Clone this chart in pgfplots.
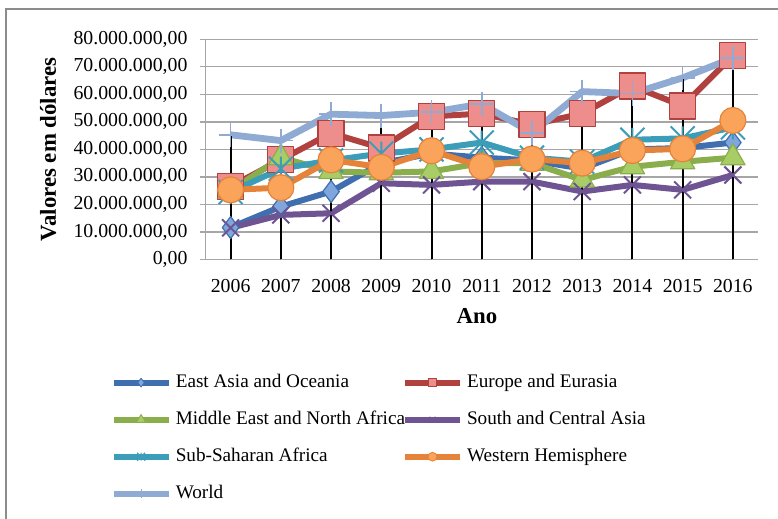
\documentclass[border=0pt]{standalone}
\usepackage{fontspec}
\setmainfont{Liberation Serif}
\usepackage{pgfplots}
\pgfplotsset{compat=1.18}
\usepackage{pgfplotstable}

\definecolor{eaLine}{HTML}{3F6FAE}
\definecolor{eaFill}{HTML}{7FA7DE}
\definecolor{euLine}{HTML}{B0413E}
\definecolor{euFill}{HTML}{EE8E8C}
\definecolor{meLine}{HTML}{8AAE4B}
\definecolor{meFill}{HTML}{A8CC66}
\definecolor{scLine}{HTML}{6E5492}
\definecolor{ssLine}{HTML}{3C9DB8}
\definecolor{whLine}{HTML}{E6833A}
\definecolor{whFill}{HTML}{F9A45A}
\definecolor{wLine}{HTML}{8FAAD3}
\definecolor{gridgray}{HTML}{A6A6A6}
\definecolor{framegray}{HTML}{8C8C8C}

\pgfdeclareplotmark{xbar}{%
  \pgfpathmoveto{\pgfqpoint{-\pgfplotmarksize}{-\pgfplotmarksize}}%
  \pgfpathlineto{\pgfqpoint{\pgfplotmarksize}{\pgfplotmarksize}}%
  \pgfpathmoveto{\pgfqpoint{-\pgfplotmarksize}{\pgfplotmarksize}}%
  \pgfpathlineto{\pgfqpoint{\pgfplotmarksize}{-\pgfplotmarksize}}%
  \pgfpathmoveto{\pgfqpoint{0pt}{-\pgfplotmarksize}}%
  \pgfpathlineto{\pgfqpoint{0pt}{\pgfplotmarksize}}%
  \pgfusepathqstroke}

\pgfplotstableread{
year ea eu me sc ss wh w
2006 11600000 26500000 25000000 11500000 24500000 25300000 45300000
2007 19200000 36200000 37000000 16200000 33000000 26100000 43200000
2008 24700000 45900000 32000000 16800000 36000000 36200000 52800000
2009 35000000 40500000 31500000 27700000 38500000 33500000 52300000
2010 38500000 52000000 32000000 27100000 40000000 39500000 53500000
2011 37000000 53000000 35000000 28300000 42500000 33700000 56500000
2012 36000000 49000000 35000000 28300000 37000000 36500000 46000000
2013 33000000 53000000 28900000 24700000 35500000 35000000 61000000
2014 40000000 63000000 33700000 27100000 43500000 39600000 60300000
2015 40500000 55800000 35500000 25300000 44000000 40200000 66000000
2016 42500000 74000000 37000000 30700000 48000000 50500000 73200000
}\data

\begin{document}
\begin{tikzpicture}
\useasboundingbox (0,0) rectangle (389pt,259.5pt);
\begin{axis}[
  at={(102.75pt,129.75pt)}, anchor=south west,
  scale only axis, width=276.25pt, height=110.1pt,
  xmin=2005.5, xmax=2016.5, ymin=0, ymax=80000000,
  axis x line*=bottom, axis y line*=left,
  axis line style={gridgray, line width=0.65pt, -},
  xtick={2006,...,2016},
  xticklabels={2006,2007,2008,2009,2010,2011,2012,2013,2014,2015,2016},
  xtick style={draw=none},
  ytick={0,10000000,20000000,30000000,40000000,50000000,60000000,70000000,80000000},
  yticklabels={{0,00},{10.000.000,00},{20.000.000,00},{30.000.000,00},{40.000.000,00},{50.000.000,00},{60.000.000,00},{70.000.000,00},{80.000.000,00}},
  scaled y ticks=false,
  ytick style={gridgray, line width=0.65pt},
  tick align=outside, major tick length=3pt,
  ymajorgrids, grid style={gridgray, line width=0.65pt},
  tick label style={font=\fontsize{9.9}{11}\selectfont},
  yticklabel style={xshift=-2.5pt},
  xticklabel style={yshift=-3.5pt},
  /pgf/number format/assume math mode=true,
  ylabel={Valores em dólares}, xlabel={Ano},
  label style={font=\fontsize{11.4}{13}\selectfont\bfseries},
  y label style={at={(axis description cs:-0.285,0.5)}, anchor=center},
  x label style={at={(axis description cs:0.4914,-0.2566)}, anchor=center},
  clip=false,
  legend columns=2,
  legend cell align=left,
  legend style={at={(axis description cs:-0.1729,-0.502)}, anchor=north west,
    draw=none, fill=none, inner sep=0pt, row sep=6.3pt,
    font=\fontsize{9.6}{11}\selectfont,
    /tikz/every even column/.append style={column sep=-3.5pt}},
  legend image code/.code={\draw[mark repeat=2, mark phase=2, #1]
     plot coordinates {(0pt,0pt) (13.75pt,0pt) (27.5pt,0pt)};},
  every axis plot/.append style={line width=3pt, line join=round},
]
\addplot[forget plot, eaLine, mark=diamond*, mark size=5.5pt, mark options={line width=0.6pt, fill=eaFill, draw=eaLine}] table[x=year,y=ea]{\data};
\addplot[forget plot, euLine, mark=square*, mark size=6.5pt, mark options={line width=0.6pt, fill=euFill, draw=euLine}] table[x=year,y=eu]{\data};
\addplot[forget plot, meLine, mark=triangle*, mark size=7pt, mark options={line width=0.6pt, fill=meFill, draw=meLine}] table[x=year,y=me]{\data};
\addplot[forget plot, scLine, mark=x, mark size=6pt, mark options={line width=1pt}] table[x=year,y=sc]{\data};
\addplot[forget plot, ssLine, mark=xbar, mark size=6pt, mark options={line width=1pt}] table[x=year,y=ss]{\data};
\addplot[forget plot, whLine, mark=*, mark size=6.5pt, mark options={line width=0.6pt, fill=whFill, draw=whLine}] table[x=year,y=wh]{\data};
\addplot[forget plot, wLine, line width=3.4pt, mark=+, mark size=6pt, mark options={line width=0.8pt}] table[x=year,y=w]{\data};
% drop lines
\addplot[forget plot, black, line width=1pt, ycomb, mark=none] table[x=year,y=ea]{\data};
\addplot[forget plot, black, line width=1pt, ycomb, mark=none] table[x=year,y=eu]{\data};
\addplot[forget plot, black, line width=1pt, ycomb, mark=none] table[x=year,y=me]{\data};
\addplot[forget plot, black, line width=1pt, ycomb, mark=none] table[x=year,y=sc]{\data};
\addplot[forget plot, black, line width=1pt, ycomb, mark=none] table[x=year,y=ss]{\data};
\addplot[forget plot, black, line width=1pt, ycomb, mark=none] table[x=year,y=wh]{\data};
\addplot[forget plot, black, line width=1pt, ycomb, mark=none] table[x=year,y=w]{\data};
% legend
\addlegendimage{eaLine, line width=3pt, mark=diamond*, mark size=2.2pt, mark options={line width=0.4pt, fill=eaFill, draw=eaLine}}
\addlegendentry{East Asia and Oceania}
\addlegendimage{euLine, line width=3pt, mark=square*, mark size=2.1pt, mark options={line width=0.4pt, fill=euFill, draw=euLine}}
\addlegendentry{Europe and Eurasia}
\addlegendimage{meLine, line width=3pt, mark=triangle*, mark size=2.6pt, mark options={line width=0.4pt, fill=meFill, draw=meLine}}
\addlegendentry{Middle East and North Africa}
\addlegendimage{scLine, line width=3pt, mark=x, mark size=2pt, mark options={line width=0.5pt}}
\addlegendentry{South and Central Asia}
\addlegendimage{ssLine, line width=3pt, mark=xbar, mark size=2pt, mark options={line width=0.5pt}}
\addlegendentry{Sub-Saharan Africa}
\addlegendimage{whLine, line width=3pt, mark=*, mark size=2.2pt, mark options={line width=0.4pt, fill=whFill, draw=whLine}}
\addlegendentry{Western Hemisphere}
\addlegendimage{wLine, line width=3.2pt, mark=+, mark size=2.2pt, mark options={line width=0.4pt}}
\addlegendentry{World}
\end{axis}
\draw[framegray, line width=0.65pt] (3pt,0pt) -- (3pt,255pt) -- (389pt,255pt);
\end{tikzpicture}
\end{document}
